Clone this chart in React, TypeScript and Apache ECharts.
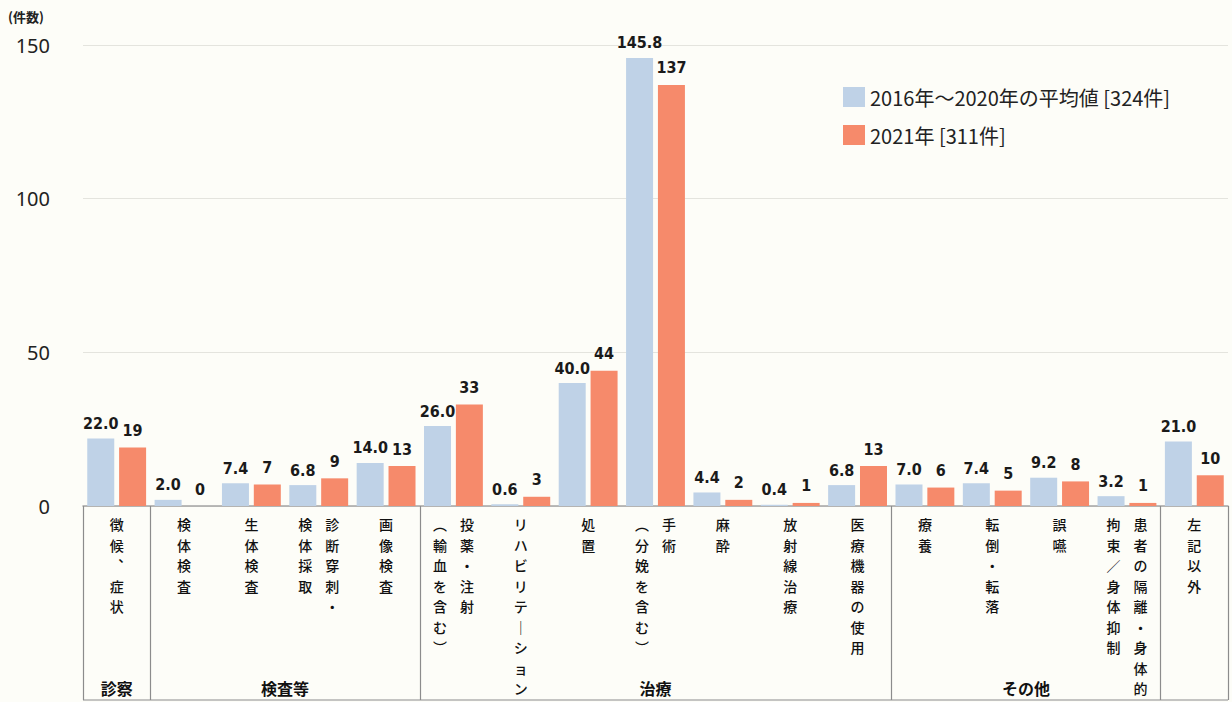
import React, { useEffect, useRef } from "react";
import * as echarts from "echarts";

const categories = [
  "徴候、症状",
  "検体検査",
  "生体検査",
  "診断穿刺・検体採取",
  "画像検査",
  "投薬・注射（輸血を含む）",
  "リハビリテーション",
  "処置",
  "手術（分娩を含む）",
  "麻酔",
  "放射線治療",
  "医療機器の使用",
  "療養",
  "転倒・転落",
  "誤嚥",
  "患者の隔離・身体的拘束／身体抑制",
  "左記以外",
];

// vertical label columns, rightmost column first
const labelColumns = [
  ["徴候︑症状"],
  ["検体検査"],
  ["生体検査"],
  ["診断穿刺・", "検体採取"],
  ["画像検査"],
  ["投薬・注射", "︵輸血を含む︶"],
  ["リハビリテ｜ション"],
  ["処置"],
  ["手術", "︵分娩を含む︶"],
  ["麻酔"],
  ["放射線治療"],
  ["医療機器の使用"],
  ["療養"],
  ["転倒・転落"],
  ["誤嚥"],
  ["患者の隔離・身体的", "拘束／身体抑制"],
  ["左記以外"],
];

const avg2016to2020 = [22.0, 2.0, 7.4, 6.8, 14.0, 26.0, 0.6, 40.0, 145.8, 4.4, 0.4, 6.8, 7.0, 7.4, 9.2, 3.2, 21.0];
const y2021 = [19, 0, 7, 9, 13, 33, 3, 44, 137, 2, 1, 13, 6, 5, 8, 1, 10];

const seriesNames = ["2016年～2020年の平均値 [324件]", "2021年 [311件]"];

const groupNames = ["診察", "検査等", "治療", "その他"];
const groupStart = [0, 1, 5, 12];
const groupEnd = [0, 4, 11, 15];
const dividerIndexes = [0, 1, 5, 12, 16];

const yTicks = { min: 0, max: 150, interval: 50 };

const BLUE = "#bfd2e7";
const RED = "#f68a6b";
const CJK = '"Noto Sans CJK JP", "Noto Sans", sans-serif';
const NUM = '"DejaVu Sans Condensed", "Liberation Sans Narrow", "Liberation Sans", sans-serif';

export default function App() {
  const ref = useRef<HTMLDivElement>(null);

  useEffect(() => {
    if (!ref.current) return;
    const chart = echarts.init(ref.current, undefined, { renderer: "svg" });

    const gridLeft = 83;
    const gridRight = 4;
    const gridTop = 45;
    const gridBottom = 196;
    const boxBottom = 700;

    const labelFormatter = (_v: string, idx: number) => {
      const cols = labelColumns[idx];
      const split = cols.map((c) => Array.from(c));
      const rows = Math.max(...split.map((s) => s.length));
      const lines: string[] = [];
      for (let r = 0; r < rows; r++) {
        const parts = split
          .slice()
          .reverse()
          .map((s) => `{c|${s[r] || "　"}}`);
        lines.push(parts.join(""));
      }
      return lines.join("\n");
    };

    const option: any = {
      animation: false,
      backgroundColor: "#fdfdf8",
      textStyle: { fontFamily: CJK },
      legend: {
        orient: "vertical",
        left: 838,
        top: 82,
        icon: "rect",
        itemWidth: 22,
        itemHeight: 20,
        itemGap: 18,
        textStyle: { fontSize: 20, color: "#222", fontFamily: CJK },
        data: seriesNames,
      },
      grid: { left: gridLeft, right: gridRight, top: gridTop, bottom: gridBottom, containLabel: false },
      xAxis: {
        type: "category",
        data: categories,
        axisLine: { show: true, lineStyle: { color: "#a4a4a4", width: 1.5 } },
        axisTick: {
          show: true,
          length: boxBottom - (702 - gridBottom),
          interval: (index: number) => dividerIndexes.includes(index),
          lineStyle: { color: "#8c8c8c", width: 1.2 },
        },
        axisLabel: {
          interval: 0,
          margin: 8,
          formatter: labelFormatter,
          rich: {
            c: {
              width: 27,
              align: "center",
              fontSize: 14,
              lineHeight: 20.5,
              fontWeight: 500,
              color: "#111111",
              fontFamily: CJK,
            },
          },
        },
        splitLine: { show: false },
      },
      yAxis: {
        type: "value",
        min: yTicks.min,
        max: yTicks.max,
        interval: yTicks.interval,
        axisLine: { show: false },
        axisTick: { show: false },
        axisLabel: { fontSize: 20, color: "#222", margin: 33, fontFamily: '"Noto Sans", sans-serif' },
        splitLine: { show: true, lineStyle: { color: "#e4e4de", width: 1.2 } },
      },
      series: [
        {
          name: seriesNames[0],
          type: "bar",
          data: avg2016to2020,
          barWidth: 27,
          barGap: "18%",
          itemStyle: { color: BLUE },
          label: {
            show: true,
            position: "top",
            distance: 7,
            fontSize: 16,
            fontWeight: "bold",
            color: "#1a1a1a",
            fontFamily: NUM,
            formatter: (p: any) => Number(p.value).toFixed(1),
          },
        },
        {
          name: seriesNames[1],
          type: "bar",
          data: y2021,
          barWidth: 27,
          itemStyle: { color: RED },
          label: {
            show: true,
            position: "top",
            distance: 9,
            fontSize: 16,
            fontWeight: "bold",
            color: "#1a1a1a",
            fontFamily: NUM,
            formatter: (p: any) => String(p.value),
          },
        },
      ],
    };

    chart.setOption(option);

    const W = chart.getWidth();
    const graphics: any[] = [
      {
        type: "text",
        left: 8,
        top: 10,
        style: { text: "(件数)", fontSize: 13, fontWeight: "bold", fill: "#222", fontFamily: CJK },
      },
      {
        type: "line",
        shape: { x1: gridLeft, y1: boxBottom, x2: W - gridRight, y2: boxBottom },
        style: { stroke: "#8c8c8c", lineWidth: 1.2 },
      },
    ];
    groupNames.forEach((g, i) => {
      const x1 = chart.convertToPixel({ xAxisIndex: 0 }, categories[groupStart[i]]) as number;
      const x2 = chart.convertToPixel({ xAxisIndex: 0 }, categories[groupEnd[i]]) as number;
      graphics.push({
        type: "text",
        x: (x1 + x2) / 2,
        y: 688,
        style: {
          text: g,
          align: "center",
          textAlign: "center",
          verticalAlign: "middle",
          textVerticalAlign: "middle",
          fontSize: 16,
          fontWeight: "bold",
          fill: "#111",
          fontFamily: CJK,
        },
      });
    });
    chart.setOption({ graphic: graphics });

    return () => chart.dispose();
  }, []);

  return (
    <div
      ref={ref}
      style={{ position: "fixed", left: 0, top: 0, width: 1232, height: 702 }}
    />
  );
}
